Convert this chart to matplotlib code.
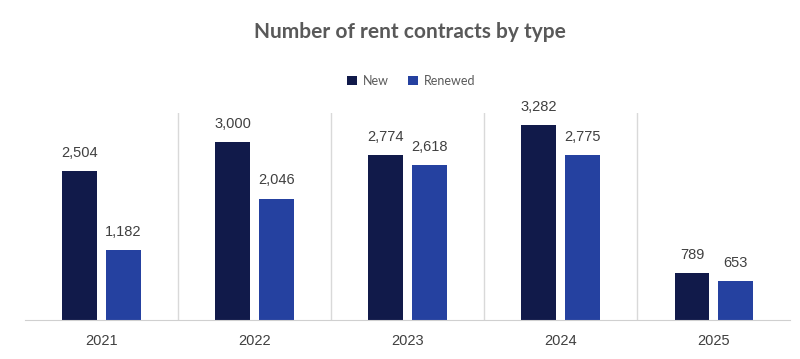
import numpy as np
import matplotlib.pyplot as plt

years = ['2021', '2022', '2023', '2024', '2025']
new = [2504, 3000, 2774, 3282, 789]
renewed = [1182, 2046, 2618, 2775, 653]

fig = plt.figure(figsize=(8, 3.59), dpi=100)
ax = fig.add_axes([0.031, 0.1086, 0.957, 0.577])

x = np.arange(len(years))
w = 0.227
off = 0.143
b1 = ax.bar(x - off, new, w, color='#111a4a', label='New')
b2 = ax.bar(x + off, renewed, w, color='#2541a0', label='Renewed')

for bars, vals in [(b1, new), (b2, renewed)]:
    for r, v in zip(bars, vals):
        ax.annotate(f'{v:,}', (r.get_x() + r.get_width() / 2, v), xytext=(0, 8),
                    textcoords='offset points', ha='center', va='bottom',
                    fontsize=10.5, color='#404040', family='Liberation Sans')

# category separators
for s in x[:-1] + 0.5:
    ax.axvline(s, color='#d9d9d9', lw=1, zorder=0)

ax.set_xlim(-0.5, len(years) - 0.5)
ax.set_ylim(0, 3490)
ax.set_xticks(x)
ax.set_xticklabels(years, fontsize=10.5, color='#404040', family='Liberation Sans')
ax.tick_params(axis='x', length=0, pad=10)
ax.set_yticks([])
for sp in ['top', 'right', 'left']:
    ax.spines[sp].set_visible(False)
ax.spines['bottom'].set_color('#d0d0d0')

fig.text(0.513, 0.91, 'Number of rent contracts by type', ha='center', va='center',
         fontsize=15, fontweight='bold', color='#595959', family='Lato')
fig.legend(loc='center', bbox_to_anchor=(0.514, 0.775), ncol=2, frameon=False,
           prop={'family': 'Lato', 'size': 9}, handlelength=0.8, handleheight=0.8,
           handletextpad=0.4, columnspacing=1.6, labelcolor='#595959')

fig.savefig('out.png', dpi=100)
